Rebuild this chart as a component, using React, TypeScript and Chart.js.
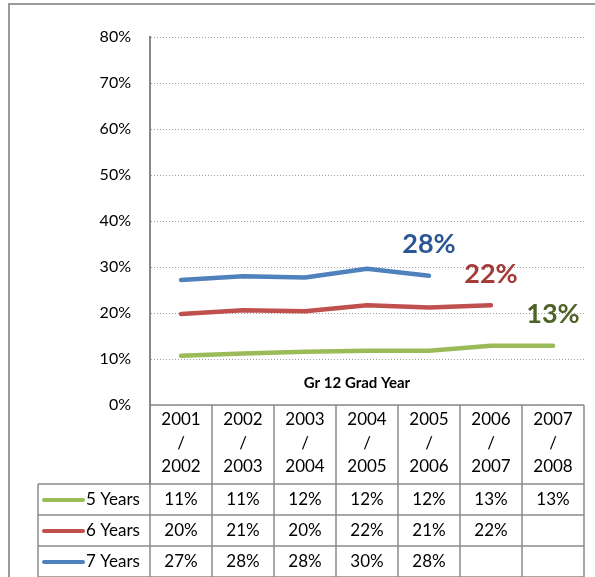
import React, { useEffect, useRef } from "react";
import { Chart, registerables } from "chart.js";

Chart.register(...registerables);

const categories: string[][] = [
  ["2001", "/", "2002"],
  ["2002", "/", "2003"],
  ["2003", "/", "2004"],
  ["2004", "/", "2005"],
  ["2005", "/", "2006"],
  ["2006", "/", "2007"],
  ["2007", "/", "2008"],
];

const fiveYears: (number | null)[] = [10.7, 11.2, 11.6, 11.8, 11.8, 12.9, 12.9];
const sixYears: (number | null)[] = [19.8, 20.6, 20.4, 21.7, 21.2, 21.7, null];
const sevenYears: (number | null)[] = [27.2, 28.0, 27.7, 29.6, 28.1, null, null];

const seriesNames = ["5 Years", "6 Years", "7 Years"];
const lineColors = ["#9BBB59", "#C0504D", "#4F81BD"];
const labelColors = ["#4F6228", "#A33B38", "#2B5694"];
const axisTitle = "Gr 12 Grad Year";

const FONT = 'Lato, "Open Sans", sans-serif';
const GRAY = "#8a8a8a";

const fmt = (v: number | null) => (v === null ? "" : Math.round(v) + "%");

const framePlugin = {
  id: "frame",
  beforeDraw(chart: any) {
    const ctx = chart.ctx;
    ctx.save();
    ctx.fillStyle = "#ffffff";
    ctx.fillRect(0, 0, chart.width, chart.height);
    ctx.strokeStyle = "#9a9a9a";
    ctx.lineWidth = 2;
    ctx.beginPath();
    ctx.moveTo(9, chart.height);
    ctx.lineTo(9, 4);
    ctx.lineTo(chart.width, 4);
    ctx.stroke();
    ctx.restore();
  },
};

const tablePlugin = {
  id: "dataTable",
  afterDraw(chart: any) {
    const ctx = chart.ctx;
    const area = chart.chartArea;
    const xs = chart.scales.x;
    const n = categories.length;
    const colW = (area.right - area.left) / n;
    const top = area.bottom;
    const headerBottom = top + 79;
    const rowH = 31;
    const legendLeft = 38;
    const tableBottom = headerBottom + rowH * 3;
    const datasets = chart.data.datasets;

    ctx.save();
    // axis title
    ctx.fillStyle = "#000";
    ctx.font = "bold 15px " + FONT;
    ctx.textAlign = "center";
    ctx.textBaseline = "middle";
    ctx.fillText(axisTitle, (area.left + area.right) / 2 - 10, top - 22);

    ctx.strokeStyle = GRAY;
    ctx.lineWidth = 1.5;
    ctx.beginPath();
    ctx.moveTo(area.left, top);
    ctx.lineTo(area.right, top);
    for (let i = 0; i <= n; i++) {
      const x = area.left + i * colW;
      ctx.moveTo(x, top);
      ctx.lineTo(x, tableBottom);
    }
    ctx.moveTo(legendLeft, headerBottom);
    ctx.lineTo(legendLeft, tableBottom);
    for (let r = 0; r <= 3; r++) {
      const y = headerBottom + r * rowH;
      ctx.moveTo(legendLeft, y);
      ctx.lineTo(area.right, y);
    }
    ctx.stroke();

    ctx.strokeStyle = "#868686";
    ctx.lineWidth = 2;
    ctx.beginPath();
    ctx.moveTo(area.left, area.top);
    ctx.lineTo(area.left, headerBottom);
    ctx.stroke();

    ctx.fillStyle = "#000";
    ctx.font = "17px " + FONT;
    ctx.textAlign = "center";
    ctx.textBaseline = "middle";
    categories.forEach((lines, i) => {
      const cx = xs.getPixelForValue(i);
      lines.forEach((t, k) => ctx.fillText(t, cx, top + 15 + k * 23.5));
    });

    datasets.forEach((ds: any, r: number) => {
      const cy = headerBottom + r * rowH + rowH / 2 + 0.5;
      ctx.strokeStyle = ds.borderColor;
      ctx.lineWidth = 4;
      ctx.lineCap = "round";
      ctx.beginPath();
      ctx.moveTo(44, cy);
      ctx.lineTo(83, cy);
      ctx.stroke();
      ctx.fillStyle = "#000";
      ctx.textAlign = "left";
      ctx.fillText(ds.label, 86, cy);
      ctx.textAlign = "center";
      ds.data.forEach((v: number | null, i: number) => {
        ctx.fillText(fmt(v), xs.getPixelForValue(i), cy);
      });
    });
    ctx.restore();
  },
};

const endLabelPlugin = {
  id: "endLabels",
  afterDatasetsDraw(chart: any) {
    const ctx = chart.ctx;
    ctx.save();
    ctx.font = "bold 27px " + FONT;
    ctx.textAlign = "center";
    ctx.textBaseline = "middle";
    chart.data.datasets.forEach((ds: any, i: number) => {
      let last = -1;
      ds.data.forEach((v: number | null, k: number) => {
        if (v !== null) last = k;
      });
      if (last < 0) return;
      const pt = chart.getDatasetMeta(i).data[last];
      ctx.fillStyle = labelColors[i];
      ctx.fillText(fmt(ds.data[last]), pt.x, pt.y - 31);
    });
    ctx.restore();
  },
};

export default function App() {
  const ref = useRef<HTMLCanvasElement | null>(null);
  useEffect(() => {
    if (!ref.current) return;
    const series = [fiveYears, sixYears, sevenYears];
    const chart = new Chart(ref.current, {
      type: "line",
      data: {
        labels: categories.map((c) => c.join(" ")),
        datasets: series.map((d, i) => ({
          label: seriesNames[i],
          data: d,
          borderColor: lineColors[i],
          backgroundColor: lineColors[i],
          borderWidth: 4.5,
          pointRadius: 0,
          tension: 0,
          borderCapStyle: "round",
          borderJoinStyle: "round",
          spanGaps: false,
        })),
      },
      options: {
        responsive: false,
        animation: false,
        layout: { padding: { left: 0, top: 37, right: 11, bottom: 172 } },
        plugins: { legend: { display: false }, tooltip: { enabled: false } },
        scales: {
          x: { type: "category", offset: true, display: false },
          y: {
            min: 0,
            max: 80,
            afterFit: (s: any) => {
              s.width = 150;
            },
            ticks: {
              stepSize: 10,
              padding: 19,
              color: "#000",
              font: { family: FONT, size: 16 },
              callback: (v: any) => v + "%",
            },
            grid: { color: "#a0a0a0", lineWidth: 1, drawTicks: false },
            border: { display: true, color: "#868686", width: 2, dash: [1, 2] },
          },
        },
      } as any,
      plugins: [framePlugin, endLabelPlugin, tablePlugin],
    });
    return () => chart.destroy();
  }, []);
  return (
    <div style={{ position: "fixed", left: 0, top: 0, width: 595, height: 577 }}>
      <canvas ref={ref} width={595} height={577} style={{ width: 595, height: 577, display: "block" }} />
    </div>
  );
}
